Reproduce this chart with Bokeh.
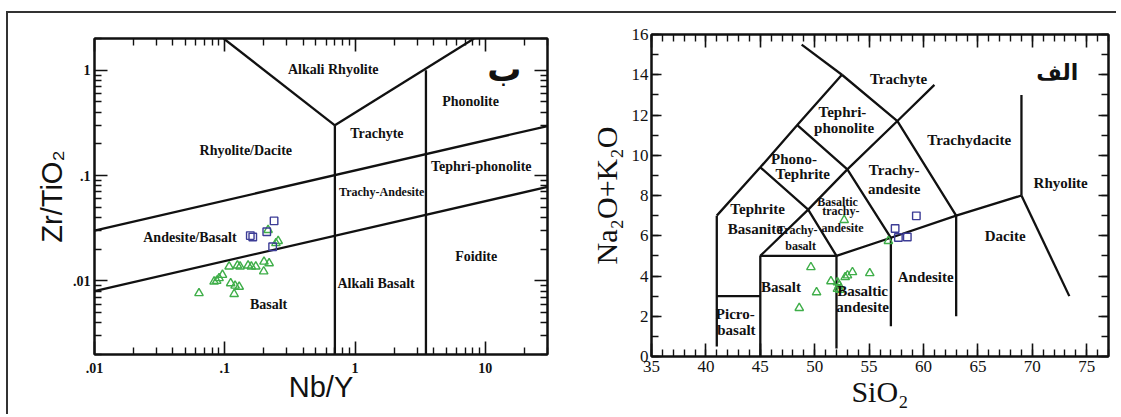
from bokeh.plotting import figure
from bokeh.models import ColumnDataSource, FixedTicker, LogAxis, LinearAxis, CustomJSTickFormatter
from bokeh.layouts import row
from bokeh.embed import file_html
from bokeh.resources import INLINE
from bokeh.core.properties import value

# ---------------- Left panel: Zr/TiO2 vs Nb/Y ----------------
wf_tri_nby = [0.0634, 0.0867, 0.0904, 0.096, 0.0828, 0.108, 0.125, 0.131, 0.151, 0.160,
              0.173, 0.200, 0.219, 0.199, 0.111, 0.120, 0.129, 0.118, 0.257, 0.247, 0.215]
wf_tri_zrti = [0.00764, 0.0100, 0.0106, 0.0114, 0.00985, 0.0137, 0.0140, 0.0137, 0.0140, 0.0137,
               0.0137, 0.0152, 0.0147, 0.0123, 0.0095, 0.0090, 0.0088, 0.0075, 0.0239, 0.0228, 0.0304]
wf_sq_nby = [0.239, 0.157, 0.164, 0.210, 0.233]
wf_sq_zrti = [0.0371, 0.0269, 0.0261, 0.0293, 0.0211]

wf_bound_x = [[0.01, 30], [0.01, 30], [0.098, 0.7], [0.7, 8.2], [0.7, 0.7], [3.5, 3.5]]
wf_bound_y = [[0.030, 0.295], [0.008, 0.078], [2.0, 0.3], [0.3, 2.0], [0.3, 0.002], [1.0, 0.002]]

wf_label_text = ["Alkali Rhyolite", "Phonolite", "Trachyte", "Rhyolite/Dacite", "Tephri-phonolite",
                 "Andesite/Basalt", "Foidite", "Alkali Basalt", "Basalt"]
wf_label_x = [0.68, 7.7, 1.47, 0.145, 9.3, 0.054, 8.5, 1.45, 0.217]
wf_label_y = [1.02, 0.51, 0.25, 0.172, 0.121, 0.0257, 0.017, 0.0094, 0.006]
wf_small_text = ["Trachy-Andesite"]
wf_small_x = [1.60]
wf_small_y = [0.070]
wf_panel_text = ["ب"]
wf_panel_x = [14.0]
wf_panel_y = [1.03]

wf_xticks = [0.01, 0.1, 1, 10]
wf_yticks = [0.01, 0.1, 1]

# ---------------- Right panel: TAS ----------------
tas_tri_si = [52.71, 56.77, 49.65, 53.47, 53.01, 52.8, 55.06, 51.49, 52.09, 52.25, 52.09, 52.31, 50.17, 48.58]
tas_tri_alk = [6.78, 5.74, 4.44, 4.19, 4.03, 3.94, 4.14, 3.74, 3.69, 3.53, 3.36, 3.31, 3.19, 2.41]
tas_sq_si = [59.34, 57.39, 57.69, 58.51]
tas_sq_alk = [6.99, 6.36, 5.91, 5.94]

tas_bound_x = [[41, 41], [41, 45, 48.4, 52.5], [41, 45], [45, 45, 52], [52, 52],
               [45, 49.4, 53, 57.6, 61], [45, 49.4, 52], [48.4, 53, 57], [52.5, 57.6, 63],
               [48.8, 52.5], [52, 57, 63, 69], [57, 57], [63, 63], [69, 69], [69, 73.4]]
tas_bound_y = [[0.5, 7], [7, 9.4, 11.5, 14], [3, 3], [0, 5, 5], [0.4, 5],
               [5, 7.3, 9.3, 11.7, 13.5], [9.4, 7.3, 5], [11.5, 9.3, 5.9], [14, 11.7, 7],
               [15.5, 14], [5, 5.9, 7, 8], [1.5, 5.9], [2, 7], [8, 13], [8, 3]]

tas_label_text = ["Trachyte", "Tephri-", "phonolite", "Trachydacite", "Phono-", "Tephrite",
                  "Trachy-", "andesite", "Rhyolite", "Tephrite", "Basanite", "Dacite", "Andesite",
                  "Basalt", "Basaltic", "andesite", "Picro-", "basalt"]
tas_label_x = [57.7, 52.55, 52.7, 64.2, 48.1, 48.9, 57.3, 57.3, 72.6, 44.75, 44.54, 67.5, 60.2,
               46.9, 54.4, 54.4, 42.7, 42.8]
tas_label_y = [13.78, 12.16, 11.36, 10.74, 9.8, 9.06, 9.27, 8.31, 8.6, 7.31, 6.36, 5.98, 3.94,
               3.44, 3.27, 2.44, 2.1, 1.31]
tas_small_text = ["Basaltic", "trachy-", "andesite", "Trachy-", "basalt"]
tas_small_x = [52.1, 52.4, 52.55, 48.4, 48.7]
tas_small_y = [7.66, 7.24, 6.39, 6.3, 5.47]
tas_panel_text = ["الف"]
tas_panel_x = [72.3]
tas_panel_y = [14.1]

tas_xticks = [35, 40, 45, 50, 55, 60, 65, 70, 75]
tas_yticks = [0, 2, 4, 6, 8, 10, 12, 14, 16]

INK = "#111111"
GREEN = "#3fae49"
BLUE = "#3c3c96"
SERIF = "Liberation Serif"
SANS = "Liberation Sans"


def style_axis(ax, label_size, label_font, label_style, show_labels=True):
    ax.axis_line_color = INK
    ax.axis_line_width = 2
    ax.major_tick_in = 13
    ax.major_tick_out = 0
    ax.minor_tick_in = 7
    ax.minor_tick_out = 0
    ax.major_tick_line_color = INK
    ax.minor_tick_line_color = INK
    ax.major_tick_line_width = 1.6
    ax.minor_tick_line_width = 1.4
    if show_labels:
        ax.major_label_text_font = label_font
        ax.major_label_text_font_size = label_size
        ax.major_label_text_font_style = label_style
        ax.major_label_text_color = INK
        ax.major_label_standoff = 4
    else:
        ax.major_label_text_font_size = "1px"
        ax.major_label_text_alpha = 0
        ax.major_label_standoff = 0


# ---------- left figure ----------
minor_log_x = [k * 10.0 ** e for e in range(-2, 2) for k in range(2, 10)]
minor_log_y = [k * 10.0 ** e for e in range(-3, 1) for k in range(2, 10)]
lx_ticker = FixedTicker(ticks=wf_xticks, minor_ticks=minor_log_x)
ly_ticker = FixedTicker(ticks=wf_yticks, minor_ticks=minor_log_y)
fmt = CustomJSTickFormatter(code="return tick >= 1 ? tick.toFixed(0) : String(tick).replace(/^0/, '');")

p1 = figure(x_axis_type="log", y_axis_type="log", x_range=(0.01, 30), y_range=(0.002, 2),
            frame_width=453, frame_height=316, min_border_left=86, min_border_right=13,
            min_border_top=25, min_border_bottom=60, output_backend="svg", toolbar_location=None,
            background_fill_color="white", border_fill_color="white")
p1.frame_align = False
p1.grid.visible = False
p1.outline_line_color = INK
p1.outline_line_width = 2

p1.xaxis.ticker = lx_ticker
p1.yaxis.ticker = ly_ticker
p1.xaxis.formatter = fmt
p1.yaxis.formatter = fmt
style_axis(p1.xaxis[0], "14px", SERIF, "bold")
style_axis(p1.yaxis[0], "14px", SERIF, "bold")
p1.xaxis.major_label_standoff = 8
p1.xaxis.axis_label = "Nb/Y"
p1.yaxis.axis_label = "Zr/TiO₂"
for ax in (p1.xaxis[0], p1.yaxis[0]):
    ax.axis_label_text_font = SANS
    ax.axis_label_text_font_size = "29px"
    ax.axis_label_text_font_style = "normal"
    ax.axis_label_text_color = INK
p1.xaxis.axis_label_standoff = -5
p1.yaxis.axis_label_standoff = 2

ax_r = LogAxis(ticker=FixedTicker(ticks=wf_yticks, minor_ticks=minor_log_y))
style_axis(ax_r, "1px", SERIF, "normal", show_labels=False)
p1.add_layout(ax_r, "right")
ax_t = LogAxis(ticker=FixedTicker(ticks=wf_xticks, minor_ticks=minor_log_x))
style_axis(ax_t, "1px", SERIF, "normal", show_labels=False)
p1.add_layout(ax_t, "above")

p1.multi_line(xs=wf_bound_x, ys=wf_bound_y, line_color=INK, line_width=2.3)
p1.scatter(wf_tri_nby, wf_tri_zrti, marker="triangle", size=8.5, fill_color=None,
           line_color=GREEN, line_width=1.4)
p1.scatter(wf_sq_nby, wf_sq_zrti, marker="square", size=7.5, fill_color=None,
           line_color=BLUE, line_width=1.4)

src1 = ColumnDataSource(dict(x=wf_label_x, y=wf_label_y, t=wf_label_text))
p1.text(x="x", y="y", text="t", source=src1, text_font=value(SERIF), text_font_size="14px",
        text_font_style="bold", text_color=INK, text_align="center", text_baseline="middle")
src1s = ColumnDataSource(dict(x=wf_small_x, y=wf_small_y, t=wf_small_text))
p1.text(x="x", y="y", text="t", source=src1s, text_font=value(SERIF), text_font_size="12px",
        text_font_style="bold", text_color=INK, text_align="center", text_baseline="middle")
src1p = ColumnDataSource(dict(x=wf_panel_x, y=wf_panel_y, t=wf_panel_text))
p1.text(x="x", y="y", text="t", source=src1p, text_font=value("DejaVu Sans"), text_font_size="34px",
        text_font_style="bold", text_color=INK, text_align="center", text_baseline="middle")

# ---------- right figure ----------
p2 = figure(x_range=(35, 77), y_range=(0, 16),
            frame_width=457, frame_height=322, min_border_left=91, min_border_right=8,
            min_border_top=21, min_border_bottom=58, output_backend="svg", toolbar_location=None,
            background_fill_color="white", border_fill_color="white")
p2.frame_align = False
p2.grid.visible = False
p2.outline_line_color = INK
p2.outline_line_width = 2

tx_minor = list(range(35, 78))
ty_minor = list(range(0, 17))
p2.xaxis.ticker = FixedTicker(ticks=tas_xticks, minor_ticks=tx_minor)
p2.yaxis.ticker = FixedTicker(ticks=tas_yticks, minor_ticks=ty_minor)
style_axis(p2.xaxis[0], "17px", SERIF, "normal")
style_axis(p2.yaxis[0], "17px", SERIF, "normal")
p2.yaxis.major_tick_in = 10
p2.xaxis.major_label_standoff = 4
p2.yaxis.major_label_standoff = 3
p2.xaxis.axis_label = "SiO₂"
p2.yaxis.axis_label = "Na₂O+K₂O"
for ax in (p2.xaxis[0], p2.yaxis[0]):
    ax.axis_label_text_font = SERIF
    ax.axis_label_text_font_size = "30px"
    ax.axis_label_text_font_style = "normal"
    ax.axis_label_text_color = INK
p2.xaxis.axis_label_standoff = 0
p2.yaxis.axis_label_standoff = 6

ax_r2 = LinearAxis(ticker=FixedTicker(ticks=tas_yticks, minor_ticks=ty_minor))
style_axis(ax_r2, "1px", SERIF, "normal", show_labels=False)
ax_r2.major_tick_in = 10
p2.add_layout(ax_r2, "right")
ax_t2 = LinearAxis(ticker=FixedTicker(ticks=tas_xticks, minor_ticks=tx_minor))
style_axis(ax_t2, "1px", SERIF, "normal", show_labels=False)
p2.add_layout(ax_t2, "above")

p2.multi_line(xs=tas_bound_x, ys=tas_bound_y, line_color=INK, line_width=2.3)
p2.scatter(tas_tri_si, tas_tri_alk, marker="triangle", size=8.5, fill_color=None,
           line_color=GREEN, line_width=1.4)
p2.scatter(tas_sq_si, tas_sq_alk, marker="square", size=7.5, fill_color=None,
           line_color=BLUE, line_width=1.4)

src2 = ColumnDataSource(dict(x=tas_label_x, y=tas_label_y, t=tas_label_text))
p2.text(x="x", y="y", text="t", source=src2, text_font=value(SERIF), text_font_size="15px",
        text_font_style="bold", text_color=INK, text_align="center", text_baseline="middle")
src2s = ColumnDataSource(dict(x=tas_small_x, y=tas_small_y, t=tas_small_text))
p2.text(x="x", y="y", text="t", source=src2s, text_font=value(SERIF), text_font_size="12px",
        text_font_style="bold", text_color=INK, text_align="center", text_baseline="middle")
src2p = ColumnDataSource(dict(x=tas_panel_x, y=tas_panel_y, t=tas_panel_text))
p2.text(x="x", y="y", text="t", source=src2p, text_font=value("DejaVu Sans"), text_font_size="22px",
        text_font_style="bold", text_color=INK, text_align="center", text_baseline="middle")

layout = row(p1, p2, margin=(11, 0, 0, 6),
             styles={"border-top": "2px solid #333333", "border-left": "2px solid #333333"})

open("out.html", "w").write(file_html(layout, INLINE))
